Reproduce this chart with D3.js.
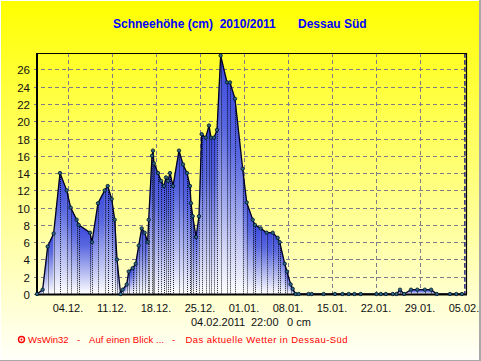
<!DOCTYPE html>
<html><head><meta charset="utf-8">
<script src="https://cdn.jsdelivr.net/npm/d3@7/dist/d3.min.js"></script>
<style>html,body{margin:0;padding:0;background:#fff;overflow:hidden}svg{display:block}text{font-family:"Liberation Sans",Arial,sans-serif}</style>
</head><body><svg id="c" width="481" height="361"></svg>
<script>
const titleLeft = "Schneehöhe (cm)  2010/2011", titleRight = "Dessau Süd";
const stampDate = "04.02.2011", stampTime = "22:00", stampValue = "0 cm";
const footerParts = ["WsWin32","-","Auf einen Blick ...","-","Das aktuelle Wetter in Dessau-Süd"];
const xTickLabels = ["04.12.","11.12.","18.12.","25.12.","01.01.","08.01.","15.01.","22.01.","29.01.","05.02."];
const xTickDays = [5,12,19,26,33,40,47,54,61,68];
const yTicks = [0,2,4,6,8,10,12,14,16,18,20,22,24,26];
// days after 29.11. and snow depth in cm
const days = [0,0.9,1.7,2.65,3.66,4.72,5.36,6.31,6.63,8.43,8.75,9.7,10.77,11.25,11.88,12.36,12.73,13.3,13.63,14.27,14.59,15.22,15.7,16.18,16.66,17.13,17.61,17.77,
 18.3,18.45,18.61,19.25,19.73,20.2,20.52,20.84,21.16,21.64,22.59,23.23,23.86,24.34,24.5,24.77,25.3,25.77,26.2,26.84,27.36,27.68,28.16,28.64,29.22,30.23,30.7,31.5,32.72,33.36,34.32,34.68,35.59,36.54,37.5,38.29,38.61,39.41,39.77,40.36,40.68,41.16,41.64,
 43.2,43.7,45.6,47.4,48.6,49.6,50.5,51.5,54.0,54.7,55.5,56.6,57.2,57.75,58.4,59.5,60.5,61.7,62.7,63.6,65.7,66.7,67.6];
const depth = [0,0.5,5.5,7,14,12,10,8.6,8,7.1,6,10.5,12,12.5,11,8.6,4,0,0.5,1.1,2.6,3,3.5,5.6,7.6,7.1,6,8.6,
 16,16.6,15.1,14,13.1,12.5,13.5,13.1,14,12.5,16.6,15,14,12.5,10.5,9,6.6,9,18.5,18.1,19.5,18.1,18.1,19,27.6,24.5,24.5,22.6,14.5,10.6,8.6,8,7.6,7.1,7.1,6.5,6,3.5,2.6,1.1,0.6,0,0,
 0,0,0,0,0,0,0,0,0,0,0,0,0,0.5,0,0.5,0.5,0.5,0.5,0,0,0,0];
const points = days.map((d,i)=>({d,v:depth[i]}));

const svg = d3.select("#c");
const defs = svg.append("defs");
const pL=37, pR=466, pT=53, pB=294;
const x = d3.scaleLinear().domain([0,68.25]).range([pL,pR]);
const y = d3.scaleLinear().domain([0,27.9]).range([pB,pT]);

const bg = defs.append("linearGradient").attr("id","bg").attr("x1",0).attr("y1",0).attr("x2",0).attr("y2",1);
bg.append("stop").attr("offset",0).attr("stop-color","#ffff00");
bg.append("stop").attr("offset",1).attr("stop-color","#fffffa");
svg.append("rect").attr("width",481).attr("height",361).attr("fill","#fff");
svg.append("rect").attr("x",1).attr("y",1).attr("width",478).attr("height",359).attr("fill","url(#bg)");
svg.append("rect").attr("x",479).attr("y",0).attr("width",2).attr("height",361).attr("fill","#a8a8a8");
svg.append("rect").attr("x",0).attr("y",360).attr("width",481).attr("height",1).attr("fill","#a8a8a8");

// grid
const gridCol="#7f7d88";
svg.append("g").selectAll("line").data(yTicks.filter(t=>t>0)).join("line")
 .attr("x1",pL-3).attr("x2",pR).attr("y1",d=>Math.round(y(d))+0.5).attr("y2",d=>Math.round(y(d))+0.5)
 .attr("stroke",gridCol).attr("stroke-dasharray","4 3");
svg.append("g").selectAll("line").data(xTickDays).join("line")
 .attr("x1",d=>Math.round(x(d))+0.5).attr("x2",d=>Math.round(x(d))+0.5).attr("y1",pT).attr("y2",pB+3)
 .attr("stroke",gridCol).attr("stroke-dasharray","4 3");

// area: one gradient per segment, from the higher point down to the base
const seg = svg.append("g");
const area = d3.area().x(p=>x(p.d)).y0(y(0)).y1(p=>y(p.v));
d3.pairs(points).forEach(([a,b],i)=>{
  const hi=Math.max(a.v,b.v);
  if(hi<=0) return;
  const id="g"+i;
  const g=defs.append("linearGradient").attr("id",id).attr("gradientUnits","userSpaceOnUse")
    .attr("x1",0).attr("x2",0).attr("y1",y(hi)).attr("y2",y(0));
  g.append("stop").attr("offset",0).attr("stop-color","#3a48dc");
  g.append("stop").attr("offset",0.3).attr("stop-color","#5a68e0");
  g.append("stop").attr("offset",1).attr("stop-color","#ffffff");
  seg.append("path").attr("d",area([a,b])).attr("fill",`url(#${id})`).attr("stroke",`url(#${id})`).attr("stroke-width",0.4);
});
// drop lines
svg.append("g").selectAll("line").data(points.filter(p=>p.v>0)).join("line")
 .attr("x1",p=>Math.round(x(p.d))+0.5).attr("x2",p=>Math.round(x(p.d))+0.5)
 .attr("y1",p=>y(p.v)).attr("y2",pB)
 .attr("stroke","#000").attr("stroke-opacity",0.85).attr("stroke-dasharray","1 1");
// data line
svg.append("path").attr("d",d3.line().x(p=>x(p.d)).y(p=>y(p.v))(points))
 .attr("fill","none").attr("stroke","#000020").attr("stroke-width",1.3);
// current-time line
svg.append("line").attr("x1",x(68)+0.6).attr("x2",x(68)+0.6).attr("y1",pT).attr("y2",pB)
 .attr("stroke","#000080").attr("stroke-width",1).attr("stroke-dasharray","5 2");
// frame
svg.append("path").attr("d",`M${pL},${pT}.5H${pR}.5V${pB}`).attr("fill","none").attr("stroke","#000").attr("stroke-width",1.2);
svg.append("line").attr("x1",pL).attr("x2",pL).attr("y1",pT).attr("y2",pB+1).attr("stroke","#000").attr("stroke-width",2);
svg.append("line").attr("x1",pL-1).attr("x2",pR+1).attr("y1",pB+0.5).attr("y2",pB+0.5).attr("stroke","#000").attr("stroke-width",2);
svg.append("line").attr("x1",pL-3).attr("x2",pL).attr("y1",pB+.5).attr("y2",pB+.5).attr("stroke",gridCol);
// markers
svg.append("g").selectAll("circle").data(points).join("circle")
 .attr("cx",p=>x(p.d)).attr("cy",p=>y(p.v)).attr("r",1.7)
 .attr("fill","#2f6a84").attr("stroke","#001028").attr("stroke-width",0.8);

// text
const T=(s,xx,yy,o={})=>svg.append("text").text(s).attr("x",xx).attr("y",yy)
 .style("white-space","pre")
 .attr("font-size",o.size||12).attr("font-weight",o.weight||"normal").attr("fill",o.fill||"#000")
 .attr("text-anchor",o.anchor||"start").attr("letter-spacing",o.ls||0);
T(titleLeft,113,28,{size:12,weight:"bold",fill:"#0000ff"});
T(titleRight,298,28,{size:12,weight:"bold",fill:"#0000ff"});
yTicks.forEach(t=>T(String(t),30,Math.round(y(t))+4.5,{anchor:"end",size:11.5,fill:"#111"}));
xTickLabels.forEach((s,i)=>T(s,x(xTickDays[i])-0.5,312,{anchor:"middle",size:11,fill:"#111"}));
T(stampDate,191,326,{size:11,fill:"#111"});
T(stampTime,251,326,{size:11,fill:"#111"});
T(stampValue,287,326,{size:11,fill:"#111"});
const red="#ff0000";
svg.append("circle").attr("cx",21.5).attr("cy",339.5).attr("r",3).attr("fill","none").attr("stroke",red).attr("stroke-width",1.4);
svg.append("circle").attr("cx",21.5).attr("cy",339.5).attr("r",1).attr("fill",red);
const fx=[28,77,89,172,185.5], fls=[0,0,0.1,0,0.45];
footerParts.forEach((s,i)=>T(s,fx[i],343,{size:9.5,fill:red,ls:fls[i]}));
</script>
</body></html>
